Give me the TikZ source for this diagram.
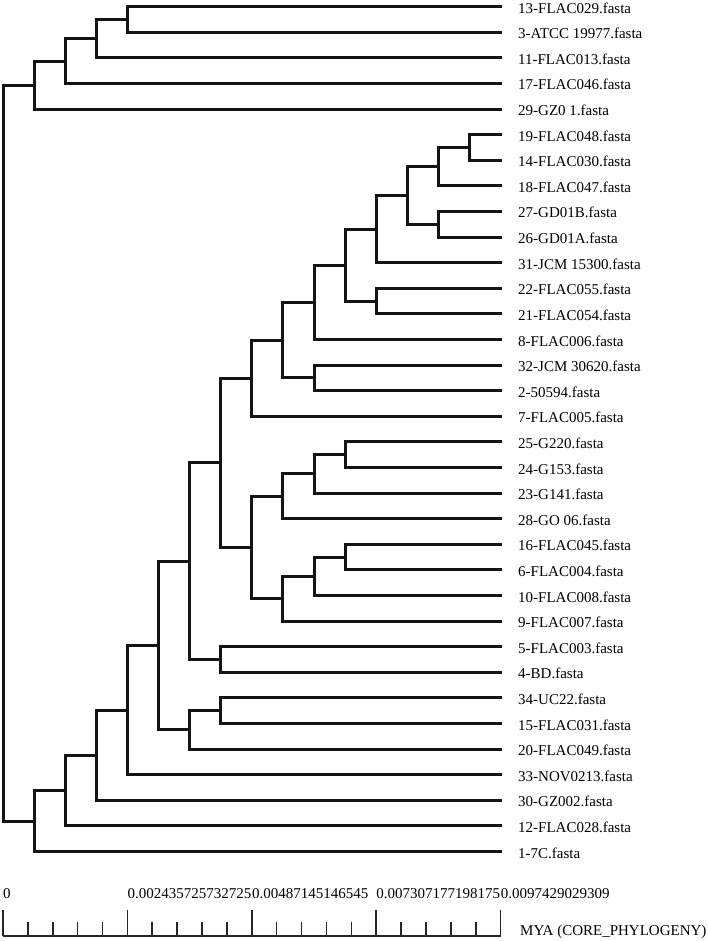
\documentclass[tikz,border=0pt]{standalone}
\usepackage{fontspec}
\setmainfont{Liberation Serif}
\begin{document}
\begin{tikzpicture}[x=1pt,y=-1pt,
  branch/.style={line width=3pt,line cap=rect,line join=miter,draw=black!92},
  leaflabel/.style={anchor=base west,inner sep=0pt,font=\fontsize{15}{18}\selectfont},
  scaleline/.style={line width=1.6pt,draw=black!85},
  scalelabel/.style={anchor=base west,inner sep=0pt,font=\fontsize{15}{18}\selectfont}]
\useasboundingbox[fill=white] (0,0) rectangle (708,941);
% leaves
\foreach \lab [count=\i from 0] in {13-FLAC029.fasta,3-ATCC 19977.fasta,11-FLAC013.fasta,17-FLAC046.fasta,29-GZ0 1.fasta,19-FLAC048.fasta,14-FLAC030.fasta,18-FLAC047.fasta,27-GD01B.fasta,26-GD01A.fasta,31-JCM 15300.fasta,22-FLAC055.fasta,21-FLAC054.fasta,8-FLAC006.fasta,32-JCM 30620.fasta,2-50594.fasta,7-FLAC005.fasta,25-G220.fasta,24-G153.fasta,23-G141.fasta,28-GO 06.fasta,16-FLAC045.fasta,6-FLAC004.fasta,10-FLAC008.fasta,9-FLAC007.fasta,5-FLAC003.fasta,4-BD.fasta,34-UC22.fasta,15-FLAC031.fasta,20-FLAC049.fasta,33-NOV0213.fasta,30-GZ002.fasta,12-FLAC028.fasta,1-7C.fasta}{
  \coordinate (e\i) at (500.6,{6.7+25.6*\i});
  \node[leaflabel] (t\i) at (518,{13.2+25.6*\i}) {\lab};
}
% internal nodes (x = 3 + 31.1*level)
\coordinate (A) at (127.4,19.5);
\coordinate (B) at (96.3,38.7);
\coordinate (C) at (65.2,61.1);
\coordinate (D) at (34.1,85.1);
\coordinate (P1) at (469.5,147.5);
\coordinate (P2) at (438.4,166.7);
\coordinate (P3) at (438.4,224.3);
\coordinate (P4) at (407.3,195.5);
\coordinate (P5) at (376.2,229.1);
\coordinate (P6) at (376.2,301.1);
\coordinate (P7) at (345.1,265.1);
\coordinate (P8) at (314.0,302.3);
\coordinate (P9) at (314.0,377.9);
\coordinate (P10) at (282.9,340.1);
\coordinate (P11) at (251.8,378.2);
\coordinate (Q1) at (345.1,454.7);
\coordinate (Q2) at (314.0,473.9);
\coordinate (Q3) at (282.9,496.3);
\coordinate (Q4) at (345.1,557.1);
\coordinate (Q5) at (314.0,576.3);
\coordinate (Q6) at (282.9,598.7);
\coordinate (Q7) at (251.8,547.5);
\coordinate (M) at (220.7,462.85);
\coordinate (K) at (220.7,659.5);
\coordinate (J) at (189.6,561.2);
\coordinate (R1) at (220.7,710.7);
\coordinate (L) at (189.6,729.9);
\coordinate (I) at (158.5,645.55);
\coordinate (H) at (127.4,710.1);
\coordinate (G) at (96.3,755.2);
\coordinate (F) at (65.2,790.55);
\coordinate (E) at (34.1,821.0);
\coordinate (R) at (3.0,453.05);
% branches
\foreach \p/\a/\b in {A/e0/e1,B/A/e2,C/B/e3,D/C/e4,
  P1/e5/e6,P2/P1/e7,P3/e8/e9,P4/P2/P3,P5/P4/e10,P6/e11/e12,P7/P5/P6,P8/P7/e13,P9/e14/e15,P10/P8/P9,P11/P10/e16,
  Q1/e17/e18,Q2/Q1/e19,Q3/Q2/e20,Q4/e21/e22,Q5/Q4/e23,Q6/Q5/e24,Q7/Q3/Q6,M/P11/Q7,K/e25/e26,J/M/K,
  R1/e27/e28,L/R1/e29,I/J/L,H/I/e30,G/H/e31,F/G/e32,E/F/e33,R/D/E}{
  \draw[branch] (\a) -| (\p) |- (\b);
}
% scale bar
\coordinate (s0) at (3,935.7);
\coordinate (s1) at (500.6,935.7);
\draw[scaleline] (s0) -- (s1);
\foreach \k in {0,...,4}{
  \draw[scaleline] ({3+124.4*\k},935.7) -- ({3+124.4*\k},910);
}
\foreach \k in {0,...,3}{
  \foreach \m in {1,...,4}{
    \draw[scaleline] ({3+124.4*\k+24.88*\m},935.7) -- ({3+124.4*\k+24.88*\m},922);
  }
}
\node[scalelabel] (v0) at (3,898) {0};
\node[scalelabel] (v1) at (127.4,898) {0.002435725732725};
\node[scalelabel] (v2) at (251.8,898) {0.00487145146545};
\node[scalelabel] (v3) at (376.2,898) {0.007307177198175};
\node[scalelabel] (v4) at (500.6,898) {0.0097429029309};
\node[scalelabel] (mya) at (520,935.5) {MYA (CORE\_PHYLOGENY)};
\end{tikzpicture}
\end{document}
